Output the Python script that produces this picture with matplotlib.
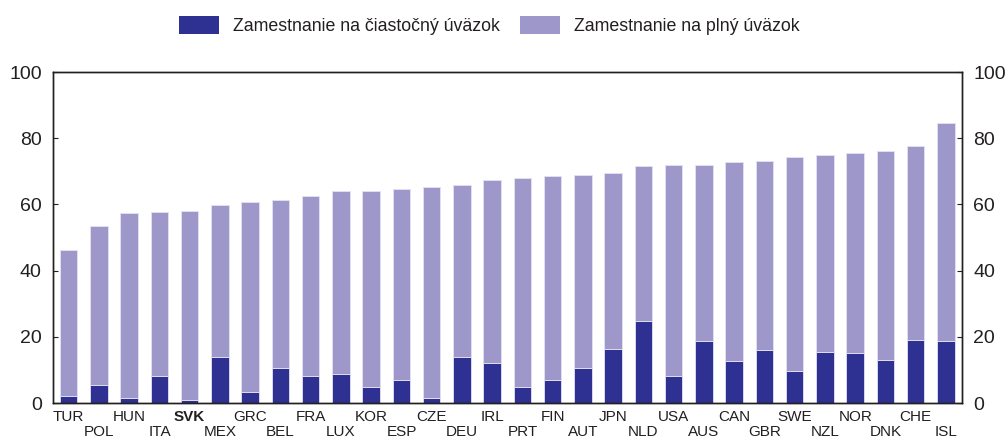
import matplotlib
matplotlib.use("Agg")
import matplotlib.pyplot as plt
from matplotlib.patches import Patch

countries = ["TUR", "POL", "HUN", "ITA", "SVK", "MEX", "GRC", "BEL", "FRA", "LUX",
             "KOR", "ESP", "CZE", "DEU", "IRL", "PRT", "FIN", "AUT", "JPN", "NLD",
             "USA", "AUS", "CAN", "GBR", "SWE", "NZL", "NOR", "DNK", "CHE", "ISL"]
part_time = [2.2, 5.3, 1.4, 8.1, 1.0, 13.9, 3.4, 10.6, 8.1, 8.7,
             4.7, 6.8, 1.5, 13.8, 12.1, 4.7, 7.0, 10.6, 16.4, 24.8,
             8.3, 18.8, 12.7, 16.1, 9.8, 15.4, 15.0, 12.9, 19.0, 18.8]
full_time = [43.9, 48.1, 55.9, 49.7, 57.0, 46.0, 57.3, 50.6, 54.5, 55.2,
             59.2, 57.8, 63.7, 52.1, 55.4, 63.2, 61.5, 58.4, 53.2, 46.7,
             63.6, 53.1, 60.1, 57.0, 64.5, 59.6, 60.6, 63.2, 58.5, 65.9]
legend_labels = ["Zamestnanie na čiastočný úväzok", "Zamestnanie na plný úväzok"]
y_ticks = [0, 20, 40, 60, 80, 100]

DARK = "#2E3192"
LIGHT = "#9D97CA"
TXT = "#231F20"

plt.rcParams['font.family'] = ['Liberation Sans', 'DejaVu Sans']

fig = plt.figure(figsize=(10.07, 4.38), dpi=100)
ax = fig.add_axes([0.0526, 0.0799, 0.9027, 0.7557])

x = list(range(len(countries)))
w = 0.58
ax.bar(x, part_time, width=w, color=DARK, edgecolor="#E4E2F1", linewidth=0.6)
ax.bar(x, full_time, width=w, bottom=part_time, color=LIGHT, edgecolor="#E4E2F1", linewidth=0.6)

ax.set_xlim(-0.52, len(countries) - 0.47)
ax.set_ylim(0, 100)
ax.set_yticks(y_ticks)
ax.tick_params(axis='y', direction='in', length=3.5, width=0.8, pad=8,
               labelsize=14, colors=TXT)

even_x = x[0::2]
odd_x = x[1::2]
ax.set_xticks(even_x, labels=countries[0::2])
ax.set_xticks(odd_x, labels=countries[1::2], minor=True)
ax.tick_params(axis='x', which='major', length=0, pad=5, labelsize=11, labelcolor=TXT)
ax.tick_params(axis='x', which='minor', length=0, pad=16, labelsize=11, labelcolor=TXT)
for t in ax.get_xticklabels():
    if t.get_text() == "SVK":
        t.set_fontweight('bold')

for s in ax.spines.values():
    s.set_linewidth(1.0)
    s.set_color(TXT)

ax2 = ax.twinx()
ax2.set_ylim(0, 100)
ax2.set_yticks(y_ticks)
ax2.tick_params(axis='y', direction='in', length=3.5, width=0.8, pad=8,
                labelsize=14, colors=TXT)
for s in ax2.spines.values():
    s.set_linewidth(1.0)
    s.set_color(TXT)

handles = [Patch(facecolor=DARK, edgecolor="none"), Patch(facecolor=LIGHT, edgecolor="none")]
fig.legend(handles, legend_labels, loc='upper center', bbox_to_anchor=(0.486, 1.0),
           ncol=2, frameon=False, fontsize=12.8, handlelength=2.25, handleheight=1.15,
           columnspacing=1.1, handletextpad=0.8, labelcolor=TXT)

fig.savefig("out.png", dpi=100)
